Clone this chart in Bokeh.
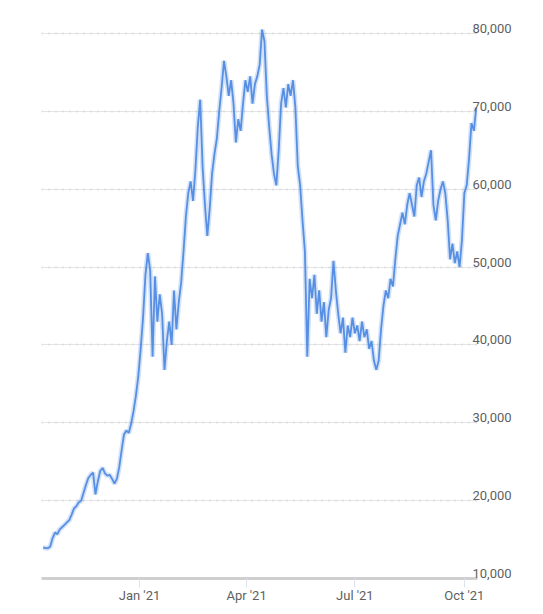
from datetime import datetime, timedelta
import pandas as pd
from bokeh.plotting import figure
from bokeh.models import Range1d, FixedTicker, Grid, LinearAxis, ColumnDataSource
from bokeh.embed import file_html
from bokeh.resources import INLINE

# ---- data, values in thousands, one every 2 days ----
start_date = "2020-10-12"
step_days = 2
price_k = [
    14.0, 13.9, 13.9, 14.1, 15.2, 15.9, 15.7, 16.3, 16.6, 16.9,
    17.2, 17.5, 18.2, 19.0, 19.3, 19.8, 20.0, 21.0, 22.0, 22.9,
    23.3, 23.6, 20.8, 22.5, 23.8, 24.2, 23.5, 23.2, 23.3, 22.8,
    22.2, 22.8, 24.3, 26.5, 28.5, 29.0, 28.7, 29.9, 31.5, 33.5,
    36.0, 39.5, 43.5, 49.0, 51.8, 49.5, 38.5, 48.8, 43.0, 46.5,
    44.0, 36.8, 40.5, 43.0, 40.0, 47.0, 42.0, 45.5, 48.0, 52.0,
    56.5, 59.5, 61.0, 58.5, 62.5, 68.0, 71.5, 63.0, 58.0, 54.0,
    57.5, 62.0, 64.5, 66.5, 70.0, 73.0, 76.5, 74.5, 72.0, 74.0,
    71.0, 66.0, 69.0, 67.5, 71.0, 74.0, 72.5, 74.5, 71.0, 73.5,
    74.5, 76.0, 80.5, 79.0, 72.0, 68.0, 64.5, 62.0, 60.5, 65.0,
    71.0, 73.0, 70.5, 73.5, 72.0, 74.0, 70.5, 63.0, 60.5, 56.0,
    52.0, 38.5, 48.5, 46.0, 49.0, 44.0, 47.0, 43.0, 45.5, 41.0,
    44.5, 46.0, 50.8, 47.0, 44.0, 41.5, 43.5, 39.0, 42.5, 41.0,
    43.5, 41.5, 42.5, 40.5, 43.0, 41.0, 42.0, 39.5, 40.5, 38.0,
    36.8, 38.0, 42.0, 45.0, 47.0, 46.0, 48.5, 47.5, 51.0, 54.0,
    55.5, 57.0, 55.5, 58.0, 59.5, 58.0, 56.5, 60.5, 61.5, 59.0,
    61.0, 62.0, 63.5, 65.0, 58.0, 56.0, 58.5, 60.0, 61.0, 59.5,
    56.0, 51.0, 53.0, 50.5, 52.0, 50.0, 53.5, 59.5, 60.5, 64.0,
    68.5, 67.5, 70.5,
]
x_tick_dates = ["2021-01-01", "2021-04-01", "2021-07-01", "2021-10-01"]
x_tick_labels = ["Jan '21", "Apr '21", "Jul '21", "Oct '21"]
y_ticks = [10000, 20000, 30000, 40000, 50000, 60000, 70000, 80000]
y_tick_labels = ["10,000", "20,000", "30,000", "40,000", "50,000", "60,000", "70,000", "80,000"]

dates = pd.date_range(start_date, periods=len(price_k), freq=f"{step_days}D")
price = [v * 1000 for v in price_k]
src = ColumnDataSource(dict(date=dates, price=price))

x_start = datetime(2021, 1, 1) - timedelta(days=82.35)
x_end = x_start + timedelta(days=366.4)
y_lo, y_hi = 10000, 81800
lab_shift = 640  # labels sit ~5px above their grid line

FONT = "Roboto"
p = figure(width=537, height=611, output_backend="svg", toolbar_location=None,
           x_axis_type="datetime", y_axis_location=None,
           x_range=Range1d(x_start, x_end), y_range=Range1d(y_lo, y_hi),
           min_border_left=41, min_border_right=60, min_border_top=19, min_border_bottom=33)
p.outline_line_color = None
p.background_fill_color = "white"
p.border_fill_color = "white"
p.xgrid.visible = False
p.extra_y_ranges = {"lab": Range1d(y_lo - lab_shift, y_hi - lab_shift)}

grid = Grid(dimension=1, ticker=FixedTicker(ticks=y_ticks[1:]),
            grid_line_color="#d2d2d2", grid_line_width=2, grid_line_dash="1 6")
p.add_layout(grid)

p.line("date", "price", source=src, color="#6d9ee8", line_width=5, alpha=0.3)
p.line("date", "price", source=src, color="#4f8ae2", line_width=1.8, alpha=0.95)

tick_ms = [pd.Timestamp(d).value / 1e6 for d in x_tick_dates]
ax = p.xaxis[0]
ax.ticker = FixedTicker(ticks=tick_ms)
ax.major_label_overrides = {t: lab for t, lab in zip(tick_ms, x_tick_labels)}
ax.axis_line_color = "#cfcfcf"
ax.axis_line_width = 3
ax.major_tick_in = 0
ax.major_tick_out = 9
ax.major_tick_line_color = "#dde3ec"
ax.minor_tick_line_color = None
ax.major_label_standoff = 0
ax.major_label_text_font = FONT
ax.major_label_text_font_size = "13px"
ax.major_label_text_color = "#5f5f5f"

yax = LinearAxis(y_range_name="lab", ticker=FixedTicker(ticks=y_ticks),
                 major_label_overrides={v: lab for v, lab in zip(y_ticks, y_tick_labels)})
yax.axis_line_color = None
yax.major_tick_line_color = None
yax.minor_tick_line_color = None
yax.major_tick_in = 0
yax.major_tick_out = 0
yax.major_label_standoff = -5
yax.major_label_text_font = FONT
yax.major_label_text_font_size = "13px"
yax.major_label_text_color = "#5f5f5f"
p.add_layout(yax, "right")

open("out.html", "w").write(file_html(p, INLINE))
